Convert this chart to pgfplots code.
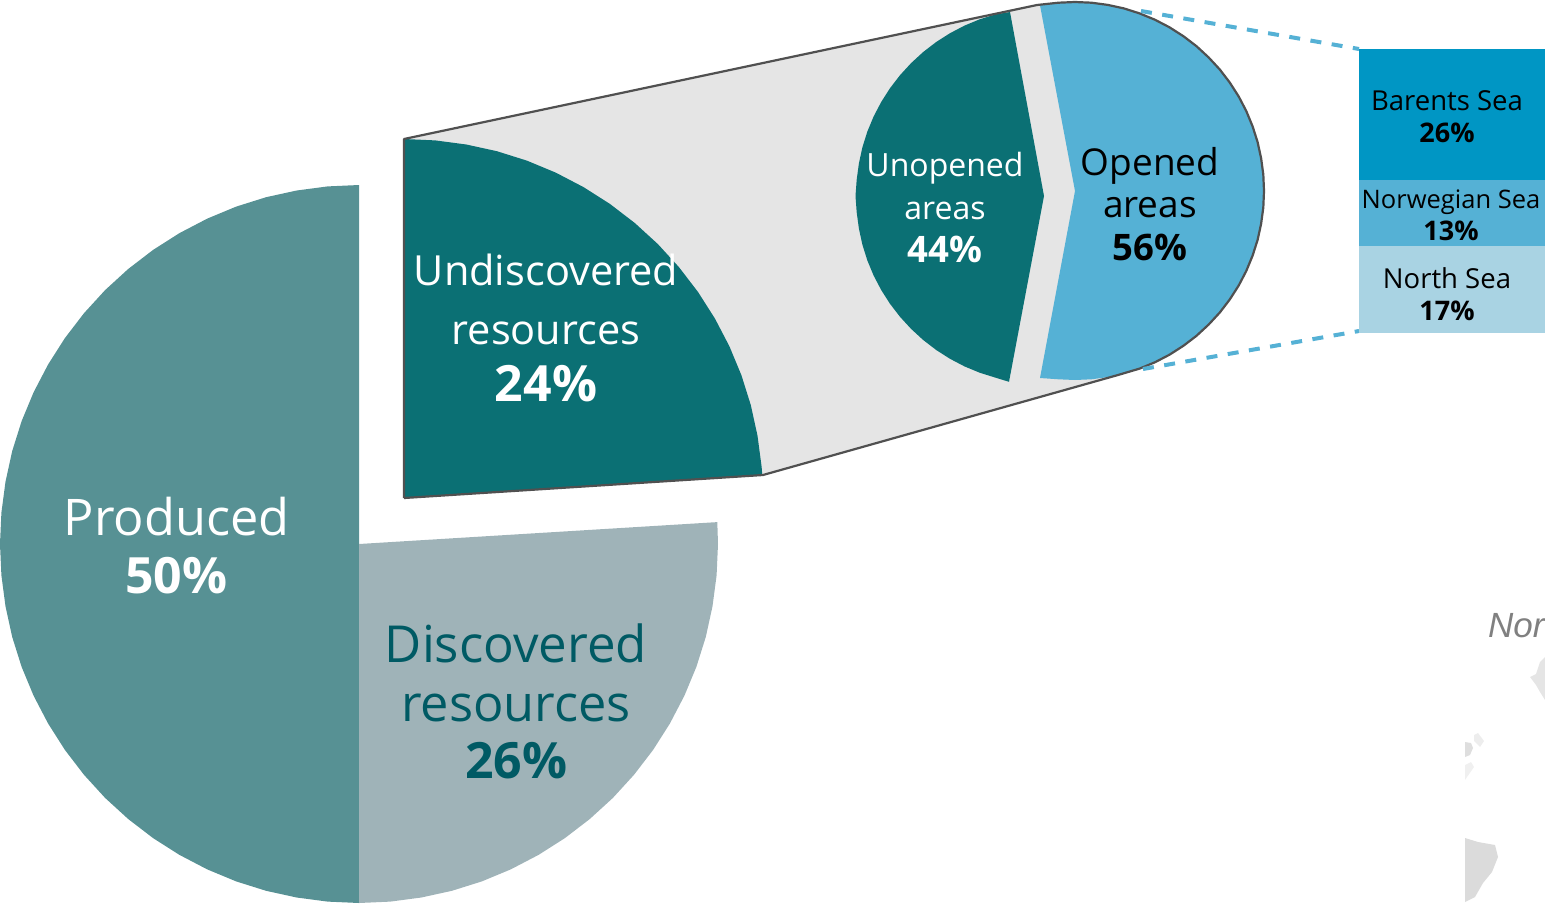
\documentclass[border=0pt]{standalone}
\usepackage{pgfplots}
\pgfplotsset{compat=1.18}
\usepackage{fontspec}
\setmainfont{Open Sans}
\newfontfamily\mapfont{Liberation Sans}
\definecolor{produced}{HTML}{579194}
\definecolor{discov}{HTML}{9FB3B8}
\definecolor{undisc}{HTML}{0B7074}
\definecolor{wedge}{HTML}{E5E5E5}
\definecolor{opened}{HTML}{55B1D5}
\definecolor{barents}{HTML}{0096C4}
\definecolor{norths}{HTML}{A9D3E3}
\definecolor{outl}{HTML}{505050}
\definecolor{darkteal}{HTML}{005A64}
\newcommand{\T}[2]{\fontsize{#1}{#1}\selectfont #2}
\newcommand{\B}[2]{\fontsize{#1}{#1}\selectfont\bfseries #2}
\tikzset{lab/.style={anchor=base,inner sep=0pt,outer sep=0pt}}
\begin{document}
\begin{tikzpicture}
\path[use as bounding box] (0,0) rectangle (1545pt,903pt);
\begin{axis}[at={(0,0)},anchor=south west,scale only axis,width=1545pt,height=903pt,
  hide axis,xmin=0,xmax=1545,ymin=0,ymax=903,y dir=reverse,no markers,clip=true]
% Produced
\addplot[fill=produced,draw=none] coordinates {(359,185)(327.7,186.4)(296.7,190.5)(266.1,197.2)(236.2,206.6)(207.3,218.6)(179.5,233.1)(153.1,249.9)(128.2,269.0)(105.1,290.1)(84.0,313.2)(64.9,338.1)(48.1,364.5)(33.6,392.3)(21.6,421.2)(12.2,451.1)(5.5,481.7)(1.4,512.7)(0,544)(1.4,575.3)(5.5,606.3)(12.2,636.9)(21.6,666.8)(33.6,695.7)(48.1,723.5)(64.9,749.9)(84.0,774.8)(105.1,797.9)(128.2,819.0)(153.1,838.1)(179.5,854.9)(207.3,869.4)(236.2,881.4)(266.1,890.8)(296.7,897.5)(327.7,901.6)(359,903)} --cycle;
% Discovered
\addplot[fill=discov,draw=none] coordinates {(359,544)(359,903)(390.3,901.6)(421.3,897.5)(451.9,890.8)(481.8,881.4)(510.7,869.4)(538.5,854.9)(564.9,838.1)(589.8,819.0)(612.9,797.9)(634.0,774.8)(653.1,749.9)(669.9,723.5)(684.4,695.7)(696.4,666.8)(705.8,636.9)(712.5,606.3)(716.6,575.3)(718,544)(717.3,522.1)} --cycle;
% grey connecting wedge
\addplot[fill=wedge,draw=none] coordinates {(404,139)(1037,5)(1058.5,2.7)(1075,2)(1091.5,2.7)(1107.8,4.9)(1123.9,8.4)(1139.6,13.4)(1154.9,19.7)(1169.5,27.3)(1183.4,36.2)(1196.5,46.2)(1208.6,57.4)(1219.8,69.5)(1229.8,82.6)(1238.7,96.5)(1246.3,111.1)(1252.6,126.4)(1257.6,142.1)(1261.1,158.2)(1263.3,174.5)(1264,191)(1263.3,207.5)(1261.1,223.8)(1257.6,239.9)(1252.6,255.6)(1246.3,270.9)(1238.7,285.5)(1229.8,299.4)(1219.8,312.5)(1208.6,324.6)(1196.5,335.8)(1183.4,345.8)(1169.5,354.7)(1154.9,362.3)(1139.6,368.6)(1118,375)(763,475)(404,498)} --cycle;
% Undiscovered
\addplot[fill=undisc,draw=none] coordinates {(404,498)(404,139)(435.3,140.4)(466.3,144.5)(496.9,151.2)(526.8,160.6)(555.7,172.6)(583.5,187.1)(609.9,203.9)(634.8,223.0)(657.9,244.1)(679.0,267.2)(698.1,292.1)(714.9,318.5)(729.4,346.3)(741.4,375.2)(750.8,405.1)(757.5,435.7)(761.6,466.7)(762.3,475.5)} --cycle;
% Unopened
\addplot[fill=undisc,draw=none] coordinates {(1044,196)(1010,12)(995.3,14.4)(979.7,19.3)(964.5,25.6)(950,33.2)(936.2,42)(923.2,52)(911.1,63.1)(900,75.2)(890,88.2)(881.2,102)(873.6,116.5)(867.3,131.7)(862.4,147.3)(858.9,163.4)(856.7,179.6)(855.5,196)(856.7,212.4)(858.9,228.6)(862.4,244.7)(867.3,260.3)(873.6,275.5)(881.2,290)(890,303.8)(900,316.8)(911.1,328.9)(923.2,340)(936.2,350)(950,358.8)(964.5,366.4)(979.7,372.7)(995.3,377.6)(1009,381.8)} --cycle;
% Opened
\addplot[fill=opened,draw=none] coordinates {(1075,191)(1040,5.3)(1058.5,2.7)(1075,2)(1091.5,2.7)(1107.8,4.9)(1123.9,8.4)(1139.6,13.4)(1154.9,19.7)(1169.5,27.3)(1183.4,36.2)(1196.5,46.2)(1208.6,57.4)(1219.8,69.5)(1229.8,82.6)(1238.7,96.5)(1246.3,111.1)(1252.6,126.4)(1257.6,142.1)(1261.1,158.2)(1263.3,174.5)(1264,191)(1263.3,207.5)(1261.1,223.8)(1257.6,239.9)(1252.6,255.6)(1246.3,270.9)(1238.7,285.5)(1229.8,299.4)(1219.8,312.5)(1208.6,324.6)(1196.5,335.8)(1183.4,345.8)(1169.5,354.7)(1154.9,362.3)(1139.6,368.6)(1123.9,373.6)(1107.8,377.1)(1091.5,379.3)(1075,380)(1058.5,379.3)(1040,378)} --cycle;
% outline
\addplot[draw=outl,line width=2.2pt,line join=round] coordinates {(404,498)(404,139)(1037,5)(1058.5,2.7)(1075,2)(1091.5,2.7)(1107.8,4.9)(1123.9,8.4)(1139.6,13.4)(1154.9,19.7)(1169.5,27.3)(1183.4,36.2)(1196.5,46.2)(1208.6,57.4)(1219.8,69.5)(1229.8,82.6)(1238.7,96.5)(1246.3,111.1)(1252.6,126.4)(1257.6,142.1)(1261.1,158.2)(1263.3,174.5)(1264,191)(1263.3,207.5)(1261.1,223.8)(1257.6,239.9)(1252.6,255.6)(1246.3,270.9)(1238.7,285.5)(1229.8,299.4)(1219.8,312.5)(1208.6,324.6)(1196.5,335.8)(1183.4,345.8)(1169.5,354.7)(1154.9,362.3)(1139.6,368.6)(1118,375)(763,475)(404,498)};
% dashed leaders
\addplot[draw=opened,line width=4pt,dash pattern=on 11pt off 10.5pt] coordinates {(1141,11)(1359,49)};
\addplot[draw=opened,line width=4pt,dash pattern=on 11pt off 10.5pt] coordinates {(1143,369)(1359,331)};
% stacked bar
\addplot[fill=barents,draw=none] coordinates {(1359,49)(1545,49)(1545,180)(1359,180)} --cycle;
\addplot[fill=opened,draw=none] coordinates {(1359,180)(1545,180)(1545,246)(1359,246)} --cycle;
\addplot[fill=norths,draw=none] coordinates {(1359,246)(1545,246)(1545,333)(1359,333)} --cycle;
% map fragments
\addplot[fill=black!14,draw=none] coordinates {(1465,838)(1478,842)(1495,845)(1498,857)(1492,872)(1483,883)(1475,897)(1465,902)} --cycle;
\addplot[fill=black!13,draw=none] coordinates {(1465,742)(1471,743)(1473,748)(1470,755)(1465,757)} --cycle;
\addplot[fill=black!7,draw=none] coordinates {(1474,735)(1478,733)(1484,741)(1480,747)(1474,741)} --cycle;
\addplot[fill=black!6,draw=none] coordinates {(1465,765)(1471,762)(1474,767)(1467,777)(1465,780)} --cycle;
\addplot[fill=black!10,draw=none] coordinates {(1530,677)(1536,674)(1540,662)(1545,657)(1545,700)(1540,692)(1536,685)} --cycle;
% texts
\node[lab,white] at (axis cs:176.5,535) {\T{50.5}{Produced}};
\node[lab,white] at (axis cs:176.5,593) {\B{50}{50\%}};
\node[lab,darkteal] at (axis cs:516,662) {\T{51}{Discovered}};
\node[lab,darkteal] at (axis cs:516,721) {\T{50.5}{resources}};
\node[lab,darkteal] at (axis cs:516.5,778) {\B{50}{26\%}};
\node[lab,white] at (axis cs:546,285) {\T{41.5}{Undiscovered}};
\node[lab,white] at (axis cs:546,344) {\T{41.5}{resources}};
\node[lab,white] at (axis cs:546,401) {\B{50}{24\%}};
\node[lab,white] at (axis cs:945,176.5) {\T{32}{Unopened}};
\node[lab,white] at (axis cs:945,219.5) {\T{32}{areas}};
\node[lab,white] at (axis cs:945,262) {\B{36.5}{44\%}};
\node[lab,black] at (axis cs:1150,175) {\T{37}{Opened}};
\node[lab,black] at (axis cs:1150,217) {\T{37}{areas}};
\node[lab,black] at (axis cs:1150,260.5) {\B{36.5}{56\%}};
\node[lab,black] at (axis cs:1447,110) {\T{27.5}{Barents Sea}};
\node[lab,black] at (axis cs:1447,142) {\B{27}{26\%}};
\node[lab,black] at (axis cs:1451,208) {\T{25.5}{Norwegian Sea}};
\node[lab,black] at (axis cs:1451,240) {\B{27}{13\%}};
\node[lab,black] at (axis cs:1447,288) {\T{27.5}{North Sea}};
\node[lab,black] at (axis cs:1447,320) {\B{27}{17\%}};
\node[anchor=base west,inner sep=0pt,text=black!50] at (axis cs:1488,637) {\mapfont\itshape\fontsize{35}{35}\selectfont Nor};
\end{axis}
\end{tikzpicture}
\end{document}
